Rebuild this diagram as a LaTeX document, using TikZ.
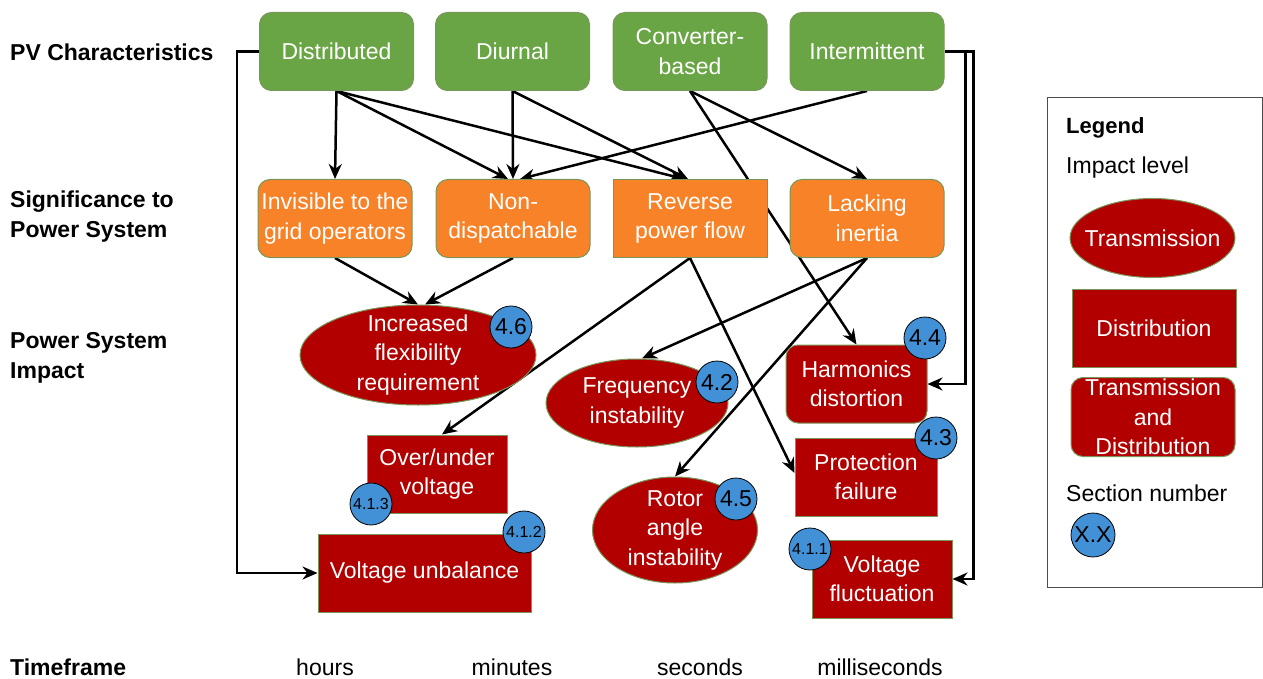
\documentclass[tikz,border=0pt]{standalone}
\usepackage{fontspec}
\setmainfont{Liberation Sans}
\usetikzlibrary{shapes.geometric, arrows.meta, backgrounds}

\definecolor{pvgreen}{RGB}{106,165,69}
\definecolor{sigorange}{RGB}{247,130,40}
\definecolor{impred}{RGB}{178,0,0}
\definecolor{secblue}{RGB}{66,144,214}
\definecolor{rimolive}{RGB}{120,150,90}

\begin{document}
\begin{tikzpicture}[x=1pt,y=-1pt,>={Stealth[length=15pt,width=13pt]},
            font=\fontsize{23}{29.5}\selectfont,
            link/.style={->,line width=2.5pt},
            box/.style={draw=rimolive,line width=1pt,text=white,align=center,inner sep=2pt,minimum height=78pt},
            pv node/.style={box,fill=pvgreen,rounded corners=12pt,minimum width=154pt},
            sig node/.style={box,fill=sigorange,rounded corners=12pt,minimum width=154pt},
            imp box/.style={box,fill=impred,minimum width=141pt},
            imp ellipse/.style={ellipse,draw=rimolive,line width=1pt,fill=impred,inner sep=0pt},
            shape text/.style={label={[text=white,align=center]center:{#1}}},
            badge/.style={circle,draw=black,line width=0.8pt,fill=secblue,minimum size=42pt,inner sep=0pt},
            small badge/.style={badge,font=\fontsize{16}{18}\selectfont},
            row label/.style={anchor=west,align=left,inner sep=0pt,font=\bfseries\fontsize{23}{30}\selectfont},
            legend text/.style={anchor=west,inner sep=0pt}]

        \useasboundingbox (0,0) rectangle (1263,679);

        % row labels
        \node[row label] (lpv) at (10,52) {PV Characteristics};
        \node[row label] (lsig) at (10,217) {Significance to\\Power System};
        \node[row label] (limp) at (10,358) {Power System\\Impact};
        \node[row label] (ltime) at (10,667) {Timeframe};

        % PV characteristics
        \node[pv node] (dist) at (336.5,51.5) {Distributed};
        \node[pv node] (diurnal) at (512.5,51.5) {Diurnal};
        \node[pv node] (conv) at (690,51.5) {Converter-\\based};
        \node[pv node] (inter) at (867,51.5) {Intermittent};

        % significance
        \node[sig node] (inv) at (335,218.5) {Invisible to the\\grid operators};
        \node[sig node] (nondisp) at (513,218.5) {Non-\\dispatchable};
        \node[sig node,rounded corners=0pt] (rev) at (690,218.5) {Reverse\\power flow};
        \node[sig node] (lack) at (867,218.5) {Lacking\\inertia};

        % impacts
        \node[imp ellipse,minimum width=236pt,minimum height=100pt,
              shape text={Increased\\flexibility\\requirement}] (flex) at (418,355) {};
        \node[imp ellipse,minimum width=182pt,minimum height=88pt,
              shape text={Frequency\\instability}] (freq) at (637,403) {};
        \node[imp ellipse,minimum width=165pt,minimum height=106pt,
              shape text={Rotor\\angle\\instability}] (rotor) at (675,530) {};
        \node[imp box,minimum width=140pt] (overunder) at (437,474) {Over/under\\voltage};
        \node[imp box,minimum width=213pt] (vunbal) at (424.5,573) {Voltage unbalance};
        \node[imp box,rounded corners=12pt] (harm) at (856.5,384) {Harmonics\\distortion};
        \node[imp box,minimum width=142pt] (prot) at (866,477) {Protection\\failure};
        \node[imp box,minimum width=140pt] (vfluct) at (882,579) {Voltage\\fluctuation};

        % section numbers
        \node[badge] (b46) at (511,327) {4.6};
        \node[badge] (b42) at (717,382) {4.2};
        \node[badge] (b45) at (736,499) {4.5};
        \node[badge] (b44) at (925,338) {4.4};
        \node[badge] (b43) at (936,438) {4.3};
        \node[small badge] (b413) at (371,504) {4.1.3};
        \node[small badge] (b412) at (524,532) {4.1.2};
        \node[small badge] (b411) at (810,549) {4.1.1};

        % timeframe
        \node (thours) at (325,667) {hours};
        \node (tmin) at (512,667) {minutes};
        \node (tsec) at (700,667) {seconds};
        \node (tms) at (880,667) {milliseconds};

        % legend
        \node[draw=black!70,line width=1pt,minimum width=215pt,minimum height=489pt] (legend) at (1154.5,342.5) {};
        \node[legend text,font=\bfseries\fontsize{22}{29}\selectfont] (lgtitle) at (1066,128) {Legend};
        \node[legend text] (lglevel) at (1066,168) {Impact level};
        \node[imp ellipse,minimum width=165pt,minimum height=79pt,
              shape text={Transmission}] (lgtrans) at (1152.5,238) {};
        \node[imp box,minimum width=164pt] (lgdist) at (1154,328) {Distribution};
        \node[imp ellipse,shape=rectangle,rounded corners=12pt,minimum width=164pt,minimum height=79pt,
              shape text={Transmission\\and\\Distribution}] (lgboth) at (1153,417) {};
        \node[legend text] (lgsec) at (1066,493) {Section number};
        \node[badge,minimum size=44pt] (lgbadge) at (1093,535) {X.X};

        \begin{scope}[on background layer]
        \path[link]
        (dist.south) edge (inv.north)
        (dist.south) edge ([xshift=-5pt]nondisp.north)
        (dist.south) edge ([xshift=-6pt]rev.north)
        (diurnal.south) edge (nondisp.north)
        (diurnal.south) edge ([xshift=-2pt]rev.north)
        (conv.south) edge (harm.north)
        (conv.south) edge (lack.north)
        (inter.south) edge ([xshift=7pt]nondisp.north)
        (inv.south) edge (flex.north)
        (nondisp.south) edge ([xshift=7pt]flex.north)
        (rev.south) edge ([xshift=5pt]overunder.north)
        (rev.south) edge ([yshift=4pt]prot.west)
        (lack.south) edge ([xshift=5pt]freq.north)
        (lack.south) edge (rotor.north);

        \draw[link] (dist.west) -- ++(-22pt,0) |- (vunbal.west);
        \draw[link] (inter.east) -- ++(21pt,0) |- (harm.east);
        \draw[link] (inter.east) -- ++(29pt,0) |- (vfluct.east);
        \end{scope}
    \end{tikzpicture}
\end{document}
